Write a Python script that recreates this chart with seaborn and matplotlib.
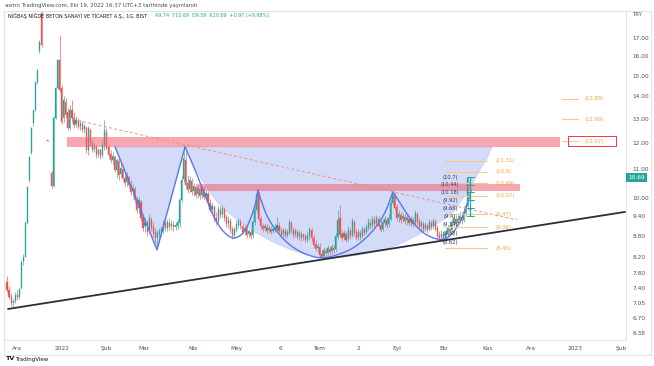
import numpy as np
import matplotlib
matplotlib.use("Agg")
import matplotlib.pyplot as plt
import seaborn as sns
from matplotlib.patches import Rectangle, Polygon
from matplotlib.ticker import NullLocator, NullFormatter
import matplotlib.transforms as mtrans

# ---------------- data (daily candles, NIBAS) ----------------
opens = [7.55, 7.35, 7.20, 7.05, 7.10, 7.25, 7.18, 7.40, 8.10, 8.22,
         9.20, 10.60, 11.60, 12.80, 13.40, 14.69, 16.30, 18.50, 14.95, 13.45,
         12.10, 10.90, 10.85, 10.40, 13.05, 14.39, 15.80, 14.40, 13.03, 13.74,
         13.30, 12.61, 13.38, 13.03, 12.78, 12.90, 12.69, 12.78, 12.57, 12.61,
         11.72, 12.52, 11.99, 11.76, 11.84, 11.57, 11.72, 11.53, 11.88, 12.44,
         11.84, 11.57, 11.34, 11.45, 10.97, 11.30, 10.82, 11.00, 10.68, 10.54,
         10.72, 10.44, 10.23, 10.30, 9.93, 9.67, 9.86, 9.38, 9.11, 9.20,
         8.99, 9.29, 9.08, 8.93, 8.78, 8.87, 8.93, 8.99, 9.20, 9.05,
         9.20, 9.11, 9.14, 9.08, 9.11, 9.20, 9.93, 10.65, 11.34, 10.51,
         10.30, 10.58, 10.23, 10.37, 10.13, 10.30, 10.09, 10.30, 10.06, 10.13,
         9.83, 9.64, 9.70, 9.35, 9.26, 9.60, 9.48, 9.64, 9.38, 9.20,
         9.26, 9.02, 8.84, 8.99, 9.14, 9.23, 9.11, 8.96, 9.02, 8.87,
         8.93, 8.84, 9.23, 9.60, 10.13, 9.32, 9.11, 9.05, 9.08, 8.99,
         9.02, 8.96, 8.99, 9.02, 9.11, 8.96, 8.87, 8.96, 8.84, 8.90,
         9.20, 8.99, 8.87, 8.93, 8.81, 8.87, 8.78, 8.81, 8.72, 8.81,
         8.99, 8.75, 8.58, 8.47, 8.50, 8.30, 8.25, 8.38, 8.33, 8.44,
         8.38, 8.47, 8.44, 8.78, 9.35, 8.87, 8.78, 8.87, 8.72, 8.96,
         8.84, 9.23, 8.93, 8.78, 8.90, 8.81, 8.99, 8.93, 9.05, 9.20,
         9.14, 9.29, 9.20, 9.32, 9.14, 9.02, 9.20, 9.29, 9.17, 9.32,
         9.83, 10.06, 9.70, 9.38, 9.45, 9.32, 9.38, 9.29, 9.32, 9.23,
         9.29, 9.20, 9.48, 9.26, 9.11, 9.17, 9.05, 9.11, 9.02, 9.20,
         9.11, 9.23, 9.05, 8.84, 8.78, 8.84, 8.75, 8.87, 9.02, 8.99,
         9.20, 9.32, 9.20, 9.29, 9.38, 9.29, 9.51, 9.74]
highs = [7.70, 7.45, 7.28, 7.15, 7.30, 7.35, 7.42, 8.12, 8.30, 9.25,
         10.40, 11.50, 12.65, 13.40, 14.75, 15.35, 16.90, 19.50, 14.95, 13.45,
         12.10, 10.90, 10.95, 13.10, 14.45, 15.85, 17.17, 14.54, 14.02, 13.93,
         13.47, 13.61, 13.84, 13.30, 13.12, 13.03, 12.95, 12.90, 12.78, 12.69,
         12.69, 12.61, 12.12, 11.99, 11.92, 11.80, 11.80, 12.12, 12.95, 12.61,
         11.92, 11.72, 11.64, 11.53, 11.41, 11.41, 11.19, 11.15, 10.89, 10.89,
         10.79, 10.61, 10.47, 10.40, 10.06, 10.03, 9.93, 9.48, 9.35, 9.29,
         9.48, 9.38, 9.23, 9.05, 8.99, 9.05, 9.11, 9.29, 9.35, 9.32,
         9.35, 9.29, 9.26, 9.23, 9.32, 10.00, 10.75, 11.92, 11.64, 10.79,
         10.75, 10.68, 10.51, 10.47, 10.44, 10.40, 10.44, 10.40, 10.26, 10.23,
         9.96, 9.83, 9.77, 9.54, 9.73, 9.73, 9.77, 9.70, 9.48, 9.41,
         9.35, 9.11, 9.08, 9.29, 9.35, 9.32, 9.20, 9.14, 9.11, 9.02,
         9.02, 9.29, 9.73, 10.26, 10.23, 9.41, 9.20, 9.20, 9.17, 9.14,
         9.11, 9.11, 9.17, 9.38, 9.23, 9.08, 9.05, 9.05, 9.02, 9.32,
         9.26, 9.08, 9.05, 9.02, 8.99, 8.96, 8.90, 8.90, 8.93, 9.08,
         9.05, 8.84, 8.70, 8.61, 8.61, 8.41, 8.50, 8.47, 8.55, 8.52,
         8.58, 8.55, 8.90, 9.60, 9.77, 8.99, 8.99, 8.96, 9.11, 9.05,
         9.35, 9.29, 9.02, 9.02, 8.99, 9.11, 9.08, 9.17, 9.35, 9.32,
         9.41, 9.41, 9.45, 9.41, 9.29, 9.32, 9.41, 9.38, 9.48, 9.96,
         10.23, 10.16, 9.80, 9.60, 9.54, 9.51, 9.48, 9.45, 9.41, 9.41,
         9.38, 9.60, 9.54, 9.35, 9.29, 9.26, 9.23, 9.20, 9.32, 9.29,
         9.35, 9.32, 9.14, 8.96, 8.99, 8.93, 8.99, 9.14, 9.14, 9.32,
         9.45, 9.45, 9.45, 9.54, 9.51, 9.67, 9.83, 10.69]
lows = [7.30, 7.15, 6.98, 6.95, 7.05, 7.12, 7.15, 7.38, 8.00, 8.20,
        9.15, 10.55, 11.55, 12.70, 13.35, 14.60, 16.20, 16.50, 14.94, 13.44,
        12.09, 10.89, 10.30, 10.35, 13.00, 14.35, 14.21, 12.78, 12.86, 13.03,
        12.52, 12.52, 12.86, 12.61, 12.65, 12.57, 12.52, 12.44, 12.40, 11.60,
        11.53, 11.88, 11.64, 11.64, 11.41, 11.45, 11.37, 11.41, 11.72, 11.72,
        11.41, 11.23, 11.19, 10.89, 10.68, 10.61, 10.68, 10.58, 10.40, 10.40,
        10.33, 10.09, 10.06, 9.83, 9.51, 9.51, 9.26, 8.96, 8.93, 8.81,
        8.90, 8.96, 8.78, 8.61, 8.47, 8.75, 8.81, 8.90, 8.96, 8.96,
        8.99, 8.99, 8.96, 8.99, 9.02, 9.08, 9.86, 10.54, 10.33, 10.16,
        10.20, 10.09, 10.06, 10.00, 10.00, 9.96, 10.00, 9.96, 9.93, 9.73,
        9.54, 9.48, 9.23, 9.14, 9.17, 9.35, 9.38, 9.26, 9.08, 9.05,
        8.90, 8.72, 8.75, 8.93, 9.05, 9.02, 8.87, 8.84, 8.75, 8.75,
        8.72, 8.75, 9.14, 9.54, 9.26, 9.02, 8.93, 8.96, 8.90, 8.90,
        8.87, 8.90, 8.93, 8.96, 8.90, 8.78, 8.78, 8.75, 8.75, 8.84,
        8.90, 8.75, 8.78, 8.72, 8.70, 8.67, 8.70, 8.64, 8.64, 8.70,
        8.67, 8.50, 8.38, 8.36, 8.22, 8.16, 8.19, 8.25, 8.27, 8.27,
        8.30, 8.33, 8.38, 8.72, 8.78, 8.67, 8.70, 8.64, 8.67, 8.72,
        8.78, 8.81, 8.70, 8.70, 8.70, 8.75, 8.84, 8.87, 8.99, 9.02,
        9.05, 9.08, 9.11, 9.05, 8.93, 8.96, 9.08, 9.05, 9.08, 9.26,
        9.77, 9.60, 9.26, 9.23, 9.20, 9.23, 9.17, 9.14, 9.11, 9.11,
        9.08, 9.11, 9.14, 8.99, 8.96, 8.93, 8.96, 8.90, 8.96, 8.99,
        9.02, 8.96, 8.72, 8.67, 8.70, 8.67, 8.70, 8.78, 8.87, 8.93,
        9.11, 9.11, 9.14, 9.20, 9.17, 9.23, 9.41, 9.59]
closes = [7.35, 7.20, 7.05, 7.10, 7.25, 7.18, 7.38, 8.09, 8.22, 9.20,
          10.37, 11.46, 12.59, 13.37, 14.69, 15.28, 16.80, 16.60, 14.94, 13.44,
          12.09, 10.89, 10.40, 13.05, 14.39, 15.80, 14.30, 12.86, 13.84, 13.16,
          12.61, 13.38, 13.03, 12.73, 12.95, 12.65, 12.82, 12.52, 12.69, 11.72,
          12.61, 11.99, 11.72, 11.88, 11.53, 11.72, 11.49, 11.92, 12.52, 11.80,
          11.53, 11.34, 11.49, 10.97, 11.34, 10.79, 11.04, 10.68, 10.51, 10.75,
          10.44, 10.20, 10.33, 9.93, 9.60, 9.93, 9.35, 9.05, 9.23, 8.93,
          9.35, 9.05, 8.90, 8.75, 8.90, 8.96, 9.02, 9.17, 9.05, 9.23,
          9.08, 9.17, 9.08, 9.14, 9.23, 9.93, 10.61, 11.41, 10.44, 10.26,
          10.61, 10.20, 10.40, 10.09, 10.33, 10.06, 10.33, 10.03, 10.16, 9.83,
          9.60, 9.73, 9.32, 9.23, 9.64, 9.45, 9.67, 9.35, 9.17, 9.29,
          8.99, 8.81, 9.02, 9.17, 9.26, 9.11, 8.93, 9.05, 8.84, 8.96,
          8.81, 9.23, 9.60, 10.13, 9.32, 9.11, 9.02, 9.11, 8.96, 9.05,
          8.93, 9.02, 9.05, 9.14, 8.96, 8.84, 8.99, 8.81, 8.93, 9.23,
          8.99, 8.84, 8.96, 8.78, 8.90, 8.75, 8.84, 8.70, 8.81, 9.02,
          8.75, 8.55, 8.44, 8.52, 8.27, 8.22, 8.41, 8.33, 8.47, 8.36,
          8.50, 8.41, 8.81, 9.29, 8.84, 8.75, 8.90, 8.70, 8.99, 8.81,
          9.26, 8.90, 8.75, 8.93, 8.78, 9.02, 8.90, 9.08, 9.23, 9.11,
          9.32, 9.17, 9.35, 9.11, 8.99, 9.23, 9.32, 9.14, 9.35, 9.83,
          10.13, 9.67, 9.35, 9.48, 9.29, 9.41, 9.26, 9.35, 9.20, 9.32,
          9.17, 9.51, 9.23, 9.08, 9.20, 9.02, 9.14, 8.99, 9.23, 9.08,
          9.26, 9.02, 8.81, 8.75, 8.87, 8.72, 8.90, 9.05, 8.96, 9.23,
          9.35, 9.17, 9.32, 9.41, 9.26, 9.54, 9.72, 10.69]

month_labels = ["Ara", "2022", "Şub", "Mar", "Nis", "May", "6", "Tem", "2",
                "Eyl", "Eki", "Kas", "Ara", "2023", "Şub"]
month_pos = [4.9, 27.1, 48.8, 67.5, 91.6, 112.8, 134.5, 153.7, 172.9,
             192.1, 215.3, 236.5, 258.1, 279.8, 302.5]
price_ticks = [17.0, 16.0, 15.0, 14.0, 13.0, 12.0, 11.0, 10.0, 9.4, 8.8,
               8.2, 7.8, 7.4, 7.05, 6.7, 6.38]

# drawings (bar index, price)
support_line = ([0.5, 304.4], [6.91, 9.54])
dashed_trend = ([27.1, 251.2], [13.08, 9.29])
top_zone = (29.6, 272.4, 11.84, 12.22)
mid_zone = (93.6, 252.7, 10.23, 10.47)
v_pts = ([53.2, 73.9, 87.7], [11.84, 8.41, 11.84])
cup_x = [87.7, 91.1, 95.1, 101.0, 107.4, 119.7, 132.0, 144.3, 154.2, 166.5,
         178.8, 191.1, 203.4, 213.3, 219.7, 224.1, 228.1, 233.0, 236.5, 238.9]
cup_y = [11.84, 11.23, 10.72, 10.09, 9.60, 9.02, 8.61, 8.33, 8.22, 8.22,
         8.33, 8.52, 8.87, 9.23, 9.54, 9.93, 10.33, 10.97, 11.41, 11.84]
arcA_x = [87.7, 92.6, 97.5, 101.5, 105.9, 111.3, 116.3, 119.7, 122.2, 123.6]
arcA_y = [11.84, 10.97, 10.09, 9.45, 8.99, 8.75, 8.90, 9.29, 9.77, 10.26]
arcB_x = [123.6, 125.6, 128.6, 133.5, 139.4, 146.8, 155.2, 164.0, 171.4,
          177.8, 182.8, 186.7, 190.1]
arcB_y = [10.26, 9.83, 9.35, 8.90, 8.55, 8.30, 8.19, 8.30, 8.50, 8.81,
          9.17, 9.60, 10.20]
arcC_x = [190.1, 193.6, 197.0, 201.0, 205.9, 211.8, 216.7, 220.7, 224.1,
          226.6, 228.6]
arcC_y = [10.20, 9.83, 9.48, 9.14, 8.87, 8.72, 8.75, 8.99, 9.35, 9.77, 10.26]
fib_low = [11.31, 10.9, 10.49, 10.07, 9.47, 9.06, 8.45]
fib_high = [13.89, 12.98, 12.07]
range_levels = [10.7, 10.44, 10.18, 9.92, 9.66, 9.4, 9.14, 8.88, 8.62]
range_text = ["(10.7)", "(10.44)", "(10.18)", "(9.92)", "(9.66)", "(9.4)",
              "(9.14)", "(8.88)", "(8.62)"]
last_price = 10.69

# ---------------- figure ----------------
sns.set_theme(style="white")
plt.rcParams['font.family'] = ['DejaVu Sans']
W, H = 654, 366
fig = plt.figure(figsize=(W / 100, H / 100), dpi=100)
fig.patch.set_facecolor("white")
ax = fig.add_axes([4 / W, 1 - 340 / H, (626 - 4) / W, (340 - 11) / H])
ax.set_facecolor("white")
ax.set_yscale("log")
ax.set_xlim(-1.48, 304.9)
ax.set_ylim(6.233, 18.60)

GREEN, RED = "#26a69a", "#ef5350"
n = len(closes)
assert len(opens) == len(highs) == len(lows) == n
xs = np.arange(n)
o = np.array(opens); c = np.array(closes)
hi = np.array(highs); lo = np.array(lows)
cols = np.where(c >= o, GREEN, RED)


def catmull(xv, yv, k=10):
    P = np.column_stack([xv, np.log(yv)])
    P = np.vstack([P[0], P, P[-1]])
    out = []
    t = np.linspace(0, 1, k, endpoint=False)[:, None]
    for i in range(1, len(P) - 2):
        p0, p1, p2, p3 = P[i - 1], P[i], P[i + 1], P[i + 2]
        seg = 0.5 * (2 * p1 + (-p0 + p2) * t + (2 * p0 - 5 * p1 + 4 * p2 - p3) * t ** 2
                     + (-p0 + 3 * p1 - 3 * p2 + p3) * t ** 3)
        out.append(seg)
    out.append(P[-2][None, :])
    R = np.vstack(out)
    return R[:, 0], np.exp(R[:, 1])


# blue filled pattern
cx, cyv = catmull(cup_x, cup_y, 8)
poly_x = list(v_pts[0][:2]) + list(cx) + [v_pts[0][0]]
poly_y = list(v_pts[1][:2]) + list(cyv) + [v_pts[1][0]]
ax.add_patch(Polygon(np.column_stack([poly_x, poly_y]), closed=True,
                     facecolor="#a9b9f2", alpha=0.5, edgecolor="#a9b9f2",
                     linewidth=0.6, zorder=1))

# candles
ax.vlines(xs, lo, hi, colors=cols, linewidth=0.45, zorder=2)
ax.bar(xs, np.abs(c - o), bottom=np.minimum(o, c), width=0.55, color=cols,
       edgecolor=cols, linewidth=0.25, zorder=2)

# zones
for (x0, x1, p0, p1) in [top_zone, mid_zone]:
    ax.add_patch(Rectangle((x0, p0), x1 - x0, p1 - p0, facecolor="#f0606e",
                           alpha=0.55, edgecolor="none", zorder=3))

# pattern outline
ax.plot(v_pts[0], v_pts[1], color="#5a78e6", lw=1.0, zorder=4)
for axx, ayy in [(arcA_x, arcA_y), (arcB_x, arcB_y), (arcC_x, arcC_y)]:
    sx, sy = catmull(axx, ayy, 8)
    ax.plot(sx, sy, color="#5a78e6", lw=1.0, zorder=4)

# trend lines
sns.lineplot(x=support_line[0], y=support_line[1], ax=ax, color="#2a2e39",
             linewidth=1.3, zorder=5)
ax.plot(dashed_trend[0], dashed_trend[1], color="#f08c8c", lw=0.7,
        ls=(0, (3, 2.5)), zorder=4)

# fib levels
ORANGE_L, ORANGE_T = "#f8c78c", "#f2a33c"
for lv in fib_low:
    ax.plot([215.8, 236.5], [lv, lv], color=ORANGE_L, lw=0.8, zorder=4)
    ax.text(240.4, lv, f"({lv:g})", color=ORANGE_T, fontsize=3.8,
            va="center", ha="left", zorder=6)
for lv in fib_high:
    ax.plot([273.4, 281.3], [lv, lv], color=ORANGE_L, lw=0.8, zorder=4)
    ax.text(284.7, lv, f"({lv:g})", color=ORANGE_T, fontsize=3.8,
            va="center", ha="left", zorder=6)
ax.add_patch(Rectangle((276.4, 11.88), 300 - 276.4, 12.28 - 11.88,
                       facecolor="none", edgecolor="#f23645", lw=0.7, zorder=6))

# price range tool
for lv, tx in zip(range_levels, range_text):
    ax.text(218.2, lv, tx, color="#2b3a67", fontsize=3.7, ha="center",
            va="center", zorder=6)
top6 = range_levels[:6]
ax.plot([228.3, 228.3], [top6[-1], top6[0]], color=GREEN, lw=0.9, zorder=6)
for lv in top6:
    ax.plot([226.6, 230.0], [lv, lv], color=GREEN, lw=0.7, zorder=6)

# axes styling
for s in ax.spines.values():
    s.set_color("#e0e3eb")
    s.set_linewidth(0.8)
ax.yaxis.tick_right()
ax.yaxis.set_minor_locator(NullLocator())
ax.yaxis.set_minor_formatter(NullFormatter())
ax.set_yticks(price_ticks)
ax.set_yticklabels([f"{v:.2f}" for v in price_ticks])
ax.set_xticks(month_pos)
ax.set_xticklabels(month_labels)
ax.tick_params(axis="y", length=0, pad=4.5, labelsize=4.2, colors="#50535e")
ax.tick_params(axis="x", length=0, pad=4.0, labelsize=4.2, colors="#50535e")
ax.grid(False)

# last price tag
trans = mtrans.blended_transform_factory(ax.transAxes, ax.transData)
ax.text(1.004, last_price, "10.69", transform=trans, color="white",
        fontsize=4.2, ha="left", va="center", zorder=8, clip_on=False,
        bbox=dict(boxstyle="square,pad=0.35", facecolor=GREEN, edgecolor="none"))

# header / footer texts
fig.text(5 / W, 1 - 5 / H, "asmn TradingView.com, Eki 19, 2022 16:37 UTC+3 tarihinde yayınlandı",
         fontsize=3.9, color="#4a4a4a", va="center", ha="left")
fig.text(8 / W, 1 - 16 / H, "NİĞBAŞ NİĞDE BETON SANAYİ VE TİCARET A.Ş., 1G, BIST",
         fontsize=3.5, color="#131722", va="center", ha="left")
fig.text(155 / W, 1 - 16 / H, "A9.74  Y10.69  D9.59  K10.69  +0.97 (+9.98%)",
         fontsize=3.5, color=GREEN, va="center", ha="left")
fig.text(632 / W, 1 - 14 / H, "TRY", fontsize=4.0, color="#50535e",
         va="center", ha="left")
fig.text(6 / W, 1 - 359 / H, "TV", fontsize=4.6, color="#131722",
         fontweight="bold", va="center", ha="left")
fig.text(15 / W, 1 - 359 / H, "TradingView", fontsize=4.0, color="#131722",
         va="center", ha="left")
fig.add_artist(Rectangle((4 / W, 1 - 355 / H), (651 - 4) / W, (355 - 11) / H,
                         transform=fig.transFigure, facecolor="none",
                         edgecolor="#e0e3eb", lw=0.8))

fig.savefig("out.png", dpi=100, facecolor="white")
